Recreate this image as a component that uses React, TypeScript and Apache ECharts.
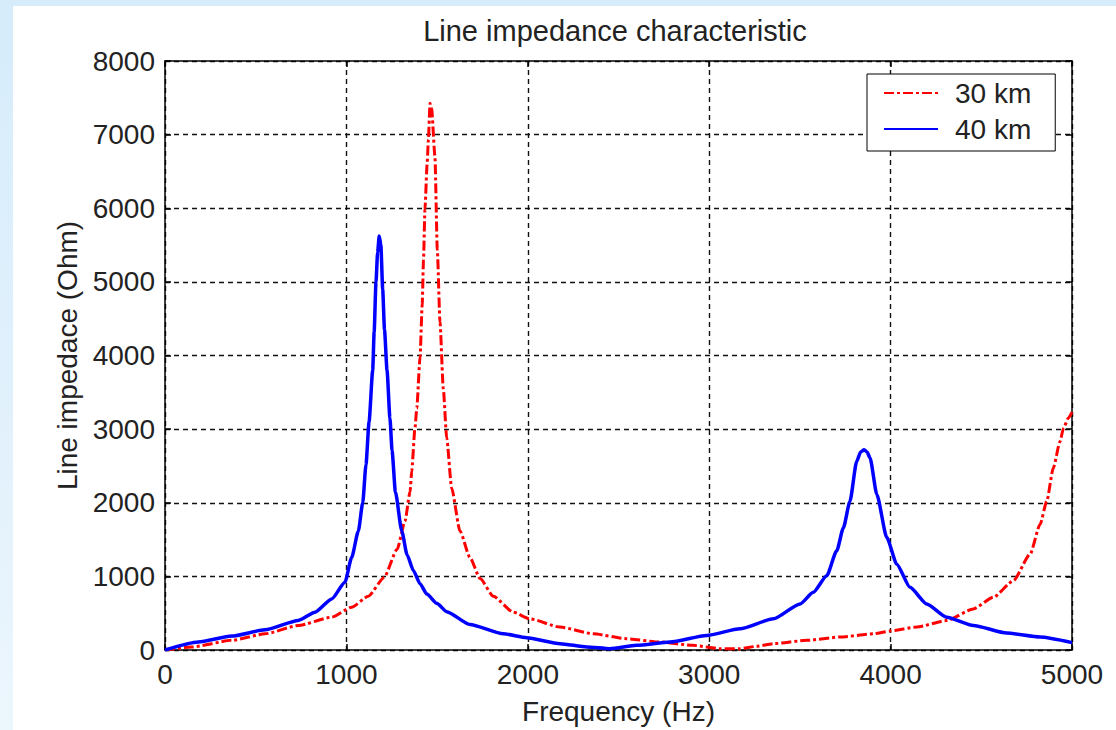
import React, { useEffect, useRef } from "react";
import * as echarts from "echarts";

const TITLE = "Line impedance characteristic";
const X_NAME = "Frequency (Hz)";
const Y_NAME = "Line impedace (Ohm)";
const SERIES_NAMES = ["30 km", "40 km"];

const freq30 = [
  0, 147, 368, 551, 735, 919, 1029, 1121, 1208, 1280, 1323, 1351, 1360,
  1378, 1388, 1406, 1418, 1425, 1433, 1445, 1452, 1461, 1470, 1488, 1501, 1516,
  1534, 1553, 1580, 1626, 1681, 1737, 1810, 1920, 2012, 2178, 2361, 2545, 2729,
  2912, 3060, 3170, 3262, 3354, 3538, 3721, 3905, 3997, 4144, 4309, 4456, 4566,
  4677, 4769, 4824, 4861, 4897, 4934, 4953, 4980, 5000,
];
const imp30 = [
  0, 41, 131, 220, 333, 446, 581, 730, 986, 1370, 1750, 2150, 2428, 3013,
  3283, 3980, 4700, 5300, 5985, 6600, 6931, 7426, 7350, 6705, 5444, 4454, 3553,
  2878, 2202, 1617, 1256, 970, 730, 513, 423, 311, 220, 153, 108, 63, 18, 18, 50,
  86, 131, 176, 220, 257, 311, 401, 558, 716, 941, 1301, 1706, 2022, 2473, 2833,
  3013, 3150, 3230,
];

const freq40 = [
  0, 184, 368, 551, 735, 827, 919, 992, 1029, 1066, 1090, 1108, 1125, 1145, 1153,
  1163, 1172, 1181, 1190, 1200, 1210, 1224, 1240, 1252, 1270, 1305, 1335, 1369,
  1406, 1443, 1500, 1553, 1681, 1865, 1994, 2178, 2325, 2453, 2600, 2784, 2986,
  3170, 3354, 3501, 3574, 3648, 3703, 3740, 3776, 3813, 3835, 3854, 3870, 3887,
  3924, 3979, 4034, 4107, 4199, 4309, 4456, 4640, 4824, 5000,
];
const imp40 = [
  0, 108, 189, 274, 401, 513, 693, 920, 1256, 1617, 2000, 2520, 3100, 3800, 4320,
  4995, 5400, 5624, 5500, 4900, 4350, 3800, 3150, 2700, 2150, 1617, 1290, 1080,
  900, 760, 630, 520, 345, 220, 167, 86, 41, 18, 63, 108, 198, 288, 423, 626, 784,
  1009, 1347, 1662, 2022, 2563, 2690, 2720, 2690, 2607, 2112, 1527, 1166, 851,
  626, 446, 333, 230, 176, 100,
];

const X_MIN = 0;
const X_MAX = 5000;
const X_STEP = 1000;
const Y_MIN = 0;
const Y_MAX = 8000;
const Y_STEP = 1000;

const FONT = "'Liberation Sans', Arial, sans-serif";

export default function App() {
  const ref = useRef<HTMLDivElement>(null);

  useEffect(() => {
    if (!ref.current) return;
    const chart = echarts.init(ref.current, null, { renderer: "svg" });
    const zip = (xs: number[], ys: number[]) => xs.map((x, i) => [x, ys[i]]);
    const axisLine = { show: true, onZero: false, lineStyle: { color: "#000", width: 1.5 } };
    const axisTick = { show: true, inside: true, length: 6, lineStyle: { color: "#000", width: 1.5 } };
    const labelStyle = { fontFamily: FONT, fontSize: 28, color: "#222" };
    const plain = (v: number) => String(v);
    const gridLine = { show: true, lineStyle: { color: "#111", width: 1.4, type: [5, 4] } };

    chart.setOption({
      animation: false,
      backgroundColor: "#fff",
      textStyle: { fontFamily: FONT },
      title: {
        text: TITLE,
        left: 602,
        top: 10,
        textAlign: "center",
        padding: 0,
        textStyle: { fontFamily: FONT, fontSize: 29, fontWeight: "normal", color: "#222" },
      },
      grid: { left: 152, top: 55, right: 44, bottom: 77, containLabel: false },
      legend: {
        orient: "vertical",
        left: 854,
        top: 68,
        padding: [5, 24, 8, 16],
        itemGap: 8,
        itemWidth: 54,
        itemHeight: 14,
        backgroundColor: "#fff",
        borderColor: "#000",
        borderWidth: 1,
        itemStyle: { opacity: 0 },
        textStyle: { fontFamily: FONT, fontSize: 28, color: "#222", padding: [0, 0, 0, 12], lineHeight: 28 },
        data: SERIES_NAMES,
      },
      xAxis: [
        {
          type: "value",
          min: X_MIN,
          max: X_MAX,
          interval: X_STEP,
          position: "bottom",
          name: X_NAME,
          nameLocation: "middle",
          nameGap: 47,
          nameTextStyle: labelStyle,
          axisLine,
          axisTick,
          axisLabel: { ...labelStyle, margin: 10, formatter: plain },
          splitLine: gridLine,
        },
        {
          type: "value",
          min: X_MIN,
          max: X_MAX,
          interval: X_STEP,
          position: "top",
          axisLine,
          axisTick,
          axisLabel: { show: false },
          splitLine: { show: false },
        },
      ],
      yAxis: [
        {
          type: "value",
          min: Y_MIN,
          max: Y_MAX,
          interval: Y_STEP,
          position: "left",
          name: Y_NAME,
          nameLocation: "middle",
          nameGap: 79,
          nameTextStyle: labelStyle,
          axisLine,
          axisTick,
          axisLabel: { ...labelStyle, margin: 10, formatter: plain },
          splitLine: gridLine,
        },
        {
          type: "value",
          min: Y_MIN,
          max: Y_MAX,
          interval: Y_STEP,
          position: "right",
          axisLine,
          axisTick,
          axisLabel: { show: false },
          splitLine: { show: false },
        },
      ],
      series: [
        {
          name: SERIES_NAMES[0],
          type: "line",
          symbol: "none",
          showSymbol: false,
          smooth: 0.2,
          smoothMonotone: "x",
          data: zip(freq30, imp30),
          itemStyle: { color: "#ff0000" },
          lineStyle: { color: "#ff0000", width: 3, type: [10, 3, 3, 3] },
          z: 3,
        },
        {
          name: SERIES_NAMES[1],
          type: "line",
          symbol: "none",
          showSymbol: false,
          smooth: 0.2,
          smoothMonotone: "x",
          data: zip(freq40, imp40),
          itemStyle: { color: "#0000ff" },
          lineStyle: { color: "#0000ff", width: 3.5, type: "solid" },
          z: 4,
        },
      ],
    });
    return () => chart.dispose();
  }, []);

  return (
    <div
      style={{
        position: "fixed",
        left: 0,
        top: 0,
        width: 1116,
        height: 730,
        background: "linear-gradient(180deg, #d6ecfb 0%, #e2f1fc 60%, #ecf6fd 100%)",
        overflow: "hidden",
      }}
    >
      <div
        ref={ref}
        style={{ position: "absolute", left: 13, top: 6, width: 1103, height: 724, background: "#fff" }}
      />
    </div>
  );
}
